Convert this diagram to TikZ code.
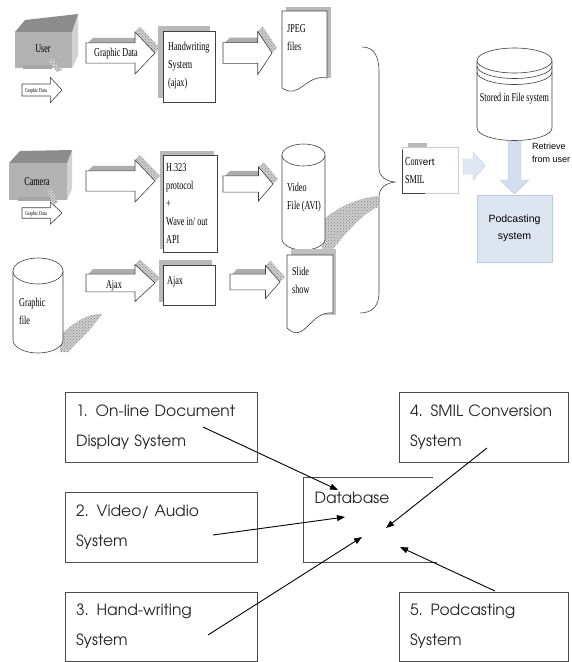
\documentclass[tikz,border=0pt]{standalone}
\usepackage{fontspec}
\setmainfont{Liberation Serif}
\newfontfamily\condserif[FakeStretch=0.68]{Liberation Serif}
\newfontfamily\arialfont{Liberation Sans}
\newfontfamily\gothicfont{texgyreadventor-regular.otf}
\usepackage{tikz}
\usetikzlibrary{arrows.meta,patterns}

\definecolor{podblue}{HTML}{DDE5F1}
\definecolor{arrowblue}{HTML}{D2DDEE}
\definecolor{blueedge}{HTML}{BCCBE2}

\tikzset{
  outline/.style={draw=black!75, line width=0.6pt},
  hatchfill/.style={preaction={fill=gray!40}, pattern=crosshatch dots, pattern color=gray!95},
  pagegray/.style={fill=gray!55},
  txt/.style={inner sep=0pt, anchor=north west, align=left, font=\condserif\fontsize{12}{18}\selectfont},
  sysbox/.style={draw=black!70, line width=0.8pt, minimum width=192pt, minimum height=70pt,
    text width=170pt, inner xsep=11pt, align=left, text=black!85,
    font=\gothicfont\fontsize{15.5}{30}\selectfont},
  inarrow/.style={-{Triangle[length=8pt,width=6pt]}, line width=0.9pt}
}

% block arrow with a raised top: left x, centre y, width, height, depth
\newcommand{\blockarrow}[5]{%
  \fill[gray!65] ({#1+2},{#2-0.24*#4}) -- ({#1+2+#5},{#2-0.24*#4-#5}) -- ({#1+0.71*#3+#5},{#2-0.24*#4-#5}) -- ({#1+0.71*#3},{#2-0.24*#4}) -- cycle;
  \fill[hatchfill] ({#1+0.71*#3},{#2-0.5*#4}) -- ({#1+0.71*#3+#5},{#2-0.5*#4-#5}) -- ({#1+#3+#5},{#2-#5}) -- ({#1+#3},{#2}) -- cycle;
  \draw[outline,fill=white] (#1,{#2-0.24*#4}) -- ({#1+0.71*#3},{#2-0.24*#4}) -- ({#1+0.71*#3},{#2-0.5*#4}) -- ({#1+#3},#2)
    -- ({#1+0.71*#3},{#2+0.5*#4}) -- ({#1+0.71*#3},{#2+0.24*#4}) -- (#1,{#2+0.24*#4}) -- cycle;
}

% upright cylinder: centre x, top y, x radius, y radius, bottom y
\newcommand{\cylinder}[5]{%
  \draw[outline,fill=white] ({#1-#3},#2) -- ({#1-#3},#5) arc[start angle=180,end angle=0,x radius=#3,y radius=#4] -- ({#1+#3},#2);
  \draw[outline,fill=white] (#1,#2) ellipse[x radius=#3,y radius=#4];
}

\begin{document}
\begin{tikzpicture}[x=1pt, y=-1pt]
  \useasboundingbox (0,0) rectangle (572,662);

  % user block
  \fill[gray!35] (72,32) -- (78,14) -- (78,56) -- (72,68) -- cycle;
  \fill[black!45] (15,32) -- (25,20) -- (78,14) -- (72,32) -- cycle;
  \fill[gray!60] (15,32) rectangle (72,68);
  \node[font=\condserif\fontsize{12}{13}\selectfont] (user) at (43,49) {User};
  \fill[gray!70] (23,65) rectangle (52,69);
  \fill[hatchfill] (48,60) -- (52,58) -- (62,70) -- (57,72) -- cycle;
  \blockarrow{22}{90}{40}{25}{0}
  \node[font=\condserif\fontsize{6}{7}\selectfont] (usergd) at (36,91) {Graphic Data};

  % camera block
  \fill[gray!35] (67,163) -- (72,150) -- (72,189) -- (67,200) -- cycle;
  \fill[black!45] (9,163) -- (20,151) -- (72,150) -- (67,163) -- cycle;
  \fill[gray!60] (9,163) rectangle (67,200);
  \node[font=\condserif\fontsize{12}{13}\selectfont] (camera) at (37,182) {Camera};
  \fill[gray!70] (18,197) rectangle (52,201);
  \fill[hatchfill] (47,190) -- (51,188) -- (58,202) -- (54,205) -- cycle;
  \blockarrow{22}{213}{40}{22}{0}
  \node[font=\condserif\fontsize{6}{7}\selectfont] (camgd) at (36,214) {Graphic Data};

  % graphic file with its shadow
  \fill[hatchfill] (60,335) .. controls (75,322) and (88,313) .. (102,314) .. controls (95,325) and (80,340) .. (68,352) -- (60,352) -- cycle;
  \cylinder{38}{271}{25}{13}{340}
  \node[txt] (gfile) at (19,298) {Graphic\\file};

  % arrows into the capture stage
  \blockarrow{86}{53}{69}{42}{5}
  \node[font=\condserif\fontsize{12}{13}\selectfont] (gdlabel) at (116,54) {Graphic Data};
  \blockarrow{86}{181}{69}{42}{5}
  \blockarrow{86}{283}{69}{37}{5}
  \node[font=\condserif\fontsize{12}{13}\selectfont] (ajaxlabel) at (114,286) {Ajax};

  % capture stage
  \fill[pagegray] (158,26) rectangle (210,98);
  \draw[outline,fill=white] (163,31) rectangle (215,102);
  \node[txt] (hw) at (168,42) {Handwriting\\System\\(ajax)};
  \fill[pagegray] (160,151) rectangle (214,249);
  \draw[outline,fill=white] (163,155) rectangle (217,252);
  \node[txt] (h323) at (166,163) {H.323\\protocol\\+\\Wave in/ out\\API};
  \fill[pagegray] (159,260) rectangle (212,302);
  \draw[outline,fill=white] (163,265) rectangle (215,305);
  \node[txt] (ajax) at (167,276) {Ajax};

  % arrows into the files
  \blockarrow{223}{53}{49}{43}{5}
  \blockarrow{223}{184}{50}{34}{5}
  \blockarrow{230}{282}{50}{33}{5}

  % jpeg files
  \fill[pagegray] (286,7) rectangle (331,78);
  \draw[outline,fill=white] (282,11) -- (327,11) -- (327,78) .. controls (305,74) and (300,100) .. (282,88) -- cycle;
  \node[txt] (jpeg) at (287,24) {JPEG\\files};

  % video file with its shadow
  \fill[hatchfill] (323,220) .. controls (340,205) and (360,198) .. (378,196) -- (378,207) .. controls (360,215) and (345,235) .. (332,250) -- (322,250) -- cycle;
  \cylinder{303.5}{155}{21.5}{11}{239}
  \node[txt] (video) at (287,183) {Video\\File (AVI)};

  % slide show
  \fill[gray!50] (291,249) rectangle (336,315);
  \draw[outline,fill=white] (287,255) -- (333,255) -- (333,313) .. controls (310,310) and (305,345) .. (287,328) -- cycle;
  \node[txt] (slide) at (292,267) {Slide\\show};

  % brace gathering the files
  \draw[outline] (362,47) .. controls (374,47) and (379,56) .. (379,72) -- (379,168)
    .. controls (379,177) and (386,181) .. (395,182) .. controls (386,183) and (379,188) .. (379,197)
    -- (379,293) .. controls (379,306) and (372,313) .. (360,313);

  % convert smil
  \fill[gray!55] (408,143) rectangle (427,147);
  \draw[gray!40, line width=0.6pt] (402,147) rectangle (458,193);
  \draw[outline] (402,150) -- (402,193) -- (425,193);
  \node[txt] (convert) at (405,157) {Conv{\arialfont\fontsize{10}{12}\selectfont ert}\\SMIL};
  \draw[blueedge, fill=arrowblue!70] (463,159) -- (473,159) -- (473,152) -- (485,166) -- (473,180) -- (473,174) -- (463,174) -- cycle;

  % file store and podcasting
  \cylinder{514.5}{60.5}{37.5}{12.5}{128}
  \draw[outline] (477,66) arc[start angle=180,end angle=0,x radius=37.5,y radius=12.5];
  \draw[outline] (477,72) arc[start angle=180,end angle=0,x radius=37.5,y radius=12.5];
  \node[font=\condserif\fontsize{12}{13}\selectfont] (stored) at (514.5,99) {Stored in File system};
  \draw[blueedge, fill=arrowblue] (508,141) -- (521,141) -- (521,180) -- (529,180) -- (514.5,194) -- (500,180) -- (508,180) -- cycle;
  \node[draw=blueedge, fill=podblue, minimum width=75pt, minimum height=67pt, align=center,
    font=\arialfont\fontsize{10.5}{17}\selectfont] (pod) at (514.5,228.5) {Podcasting\\system};
  \node[anchor=west, align=left, inner sep=0pt, font=\arialfont\fontsize{9}{13}\selectfont] (retrieve) at (532,153) {Retrieve\\from user};

  % subsystems around the database
  \node[sysbox] (b1) at (161,427) {1. On-line Document\\Display System};
  \node[sysbox] (b2) at (161,527) {2. Video/ Audio\\System};
  \node[sysbox, minimum height=69pt] (b3) at (161,626.5) {3. Hand-writing\\System};
  \node[sysbox, minimum width=169pt, text width=147pt] (b4) at (483.5,427) {4. SMIL Conversion\\System};
  \node[sysbox, minimum width=169pt, text width=147pt, minimum height=69pt] (b5) at (483.5,626.5) {5. Podcasting\\System};

  \draw[draw=black!70, line width=0.8pt] (433,477) -| (303,562) -- (437,562);
  \node[font=\gothicfont\fontsize{15.5}{18}\selectfont, text=black!85] (db) at (352,498) {Database};

  \coordinate (b1out) at (203,427);
  \coordinate (b2out) at (213,535);
  \coordinate (b3out) at (208,635);
  \coordinate (b4out) at (487,448);
  \coordinate (b5out) at (495,591);
  \coordinate (db1) at (338,490);
  \coordinate (db2) at (345,517);
  \coordinate (db3) at (362,537);
  \coordinate (db4) at (386,528);
  \coordinate (db5) at (400,547);

  \draw[inarrow] (b1out) -- (db1);
  \draw[inarrow] (b2out) -- (db2);
  \draw[inarrow] (b3out) -- (db3);
  \draw[inarrow] (b4out) -- (db4);
  \draw[inarrow] (b5out) -- (db5);
\end{tikzpicture}
\end{document}
